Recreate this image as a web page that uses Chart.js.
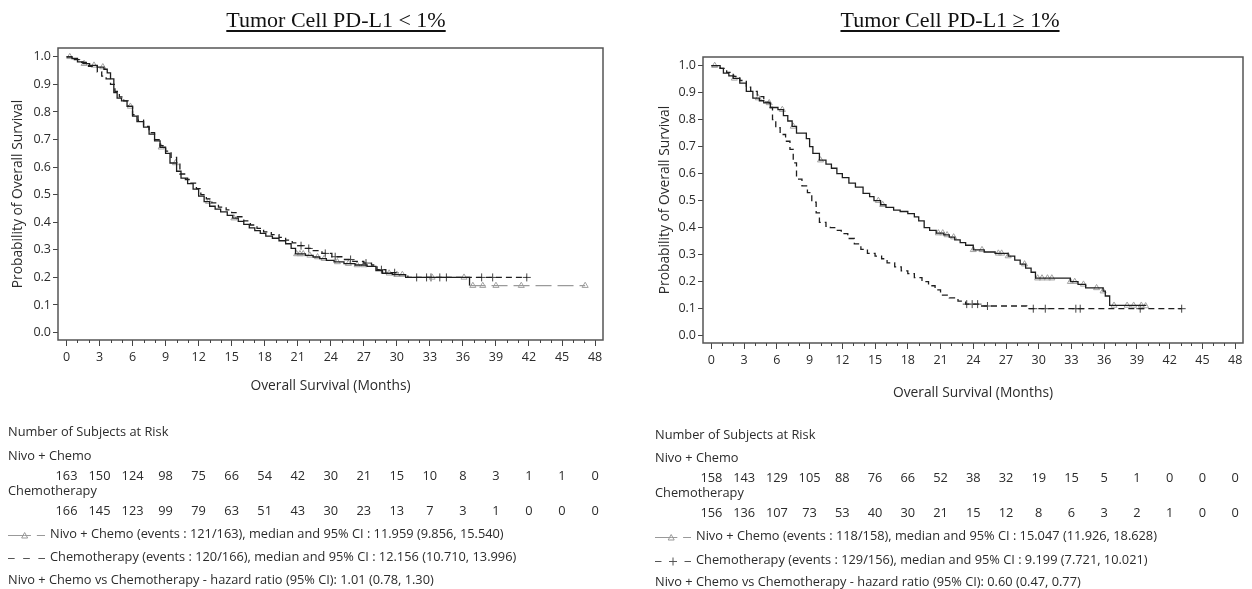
<!DOCTYPE html>
<html>
<head>
<meta charset="utf-8">
<script src="https://cdn.jsdelivr.net/npm/chart.js@4.4.1/dist/chart.umd.min.js"></script>
<style>
    body { margin: 0; background: #fff; }
    #page { position: relative; width: 1252px; height: 589px; overflow: hidden;
            font-family: "Open Sans", "Noto Sans", sans-serif; color: #2b2b2b; }
    .panel { position: absolute; top: 0; width: 626px; height: 589px; }
    .panel canvas { position: absolute; left: 0; top: 0; }
    .title { position: absolute; top: 9px; font-family: "Liberation Serif", "Times New Roman", serif;
             font-size: 22px; line-height: 22px; color: #111; text-decoration: underline;
             text-underline-offset: 3px; white-space: nowrap; transform: translateX(-50%); }
    .txt { position: absolute; font-size: 12.8px; line-height: 14px; white-space: nowrap; transform: translateY(-50%); }
    .num { position: absolute; font-size: 12.8px; line-height: 14px; white-space: nowrap; transform: translate(-50%, -50%); }
    .txt svg { vertical-align: middle; margin-right: 5px; }
</style>
</head>
<body>
<div id="page">
    <div class="panel" id="panelLow" style="left:0">
        <canvas id="chartLow" width="626" height="589"></canvas>
    </div>
    <div class="panel" id="panelHigh" style="left:626px">
        <canvas id="chartHigh" width="626" height="589"></canvas>
    </div>
    <div class="title" style="left:336px">Tumor Cell PD-L1 &lt; 1%</div>
    <div class="title" style="left:950px">Tumor Cell PD-L1 ≥ 1%</div>
</div>

<script>
// ---------- axis ticks ----------
const monthTicks = [0, 3, 6, 9, 12, 15, 18, 21, 24, 27, 30, 33, 36, 39, 42, 45, 48];
const survTicks = [0, 0.1, 0.2, 0.3, 0.4, 0.5, 0.6, 0.7, 0.8, 0.9, 1.0];

// ---------- PD-L1 < 1% ----------
const lowNivoTime = [0, 0.5, 1.0, 1.5, 2.1, 2.8, 3.4, 3.7, 4.0, 4.3, 4.6, 5.0, 5.5, 6.0, 6.4, 7.0, 7.5, 8.0, 8.5, 9.0,
    9.4, 10.0, 10.4, 11.0, 11.5, 12.0, 12.5, 13.0, 13.5, 14.0, 14.6, 15.1, 15.6, 16.1, 16.6, 17.1, 17.6, 18.1, 18.7, 19.3,
    19.9, 20.4, 20.8, 21.7, 22.4, 23.0, 23.6, 24.3, 25.2, 26.2, 27.3, 28.1, 28.7, 29.6, 30.8, 36.6, 47.1];
const lowNivoSurv = [1.0, 0.994, 0.982, 0.975, 0.969, 0.963, 0.955, 0.942, 0.92, 0.87, 0.85, 0.84, 0.82, 0.785, 0.765, 0.745, 0.72, 0.695, 0.672, 0.65,
    0.615, 0.585, 0.56, 0.54, 0.52, 0.495, 0.475, 0.458, 0.448, 0.438, 0.425, 0.415, 0.403, 0.392, 0.38, 0.37, 0.36, 0.35, 0.342, 0.333,
    0.322, 0.305, 0.285, 0.28, 0.274, 0.268, 0.262, 0.256, 0.25, 0.245, 0.24, 0.225, 0.215, 0.21, 0.20, 0.17, 0.17];
const lowChemoTime = [0, 0.6, 1.2, 2.0, 2.8, 3.2, 3.6, 4.0, 4.4, 4.8, 5.2, 5.6, 6.0, 6.5, 7.0, 7.5, 8.0, 8.5, 9.0, 9.5,
    10.0, 10.3, 10.8, 11.3, 11.8, 12.2, 12.7, 13.2, 13.8, 14.5, 15.0, 15.5, 16.1, 16.7, 17.3, 17.9, 18.6, 19.3, 19.9, 20.5,
    21.0, 21.6, 22.3, 23.2, 24.1, 25.0, 26.0, 27.0, 27.7, 28.2, 29.0, 30.2, 31.0, 41.8];
const lowChemoSurv = [1.0, 0.99, 0.98, 0.965, 0.945, 0.93, 0.92, 0.9, 0.875, 0.855, 0.84, 0.82, 0.79, 0.77, 0.748, 0.725, 0.70, 0.678, 0.658, 0.635,
    0.615, 0.575, 0.555, 0.542, 0.522, 0.50, 0.485, 0.47, 0.455, 0.445, 0.435, 0.42, 0.405, 0.39, 0.378, 0.365, 0.355, 0.345, 0.335, 0.325,
    0.315, 0.305, 0.297, 0.287, 0.275, 0.265, 0.258, 0.252, 0.245, 0.228, 0.217, 0.21, 0.20, 0.20];
const lowNivoCensor = [0.3, 1.6, 2.5, 3.3, 5.8, 8.6, 9.9, 12.9, 15.2, 20.9, 21.2, 21.5, 22.1, 22.8, 23.4, 24.6, 25.6, 26.4,
    27.0, 29.3, 30.0, 30.5, 33.2, 36.1, 36.9, 37.8, 39.0, 41.3, 47.1];
const lowChemoCensor = [21.3, 22.0, 23.5, 24.4, 25.8, 27.2, 28.6, 29.8, 31.8, 32.7, 33.1, 33.9, 34.5, 37.7, 38.7, 41.8];
const lowNivoAtRisk = [163, 150, 124, 98, 75, 66, 54, 42, 30, 21, 15, 10, 8, 3, 1, 1, 0];
const lowChemoAtRisk = [166, 145, 123, 99, 79, 63, 51, 43, 30, 23, 13, 7, 3, 1, 0, 0, 0];

// ---------- PD-L1 >= 1% ----------
const highNivoTime = [0, 0.8, 1.1, 1.6, 2.0, 2.6, 3.2, 3.8, 4.4, 4.8, 5.4, 6.1, 6.6, 7.0, 7.4, 7.8, 8.7, 9.0, 9.3, 9.9,
    10.5, 11.0, 11.5, 12.0, 12.6, 13.2, 13.9, 14.5, 14.9, 15.5, 16.0, 16.7, 17.3, 18.0, 18.6, 19.0, 19.5, 20.0, 20.6, 21.3,
    21.8, 22.3, 22.8, 23.3, 24.0, 25.0, 26.0, 27.2, 27.8, 28.3, 28.8, 29.3, 29.7, 32.9, 33.6, 34.3, 35.9, 36.1, 36.5, 39.8];
const highNivoSurv = [1.0, 0.99, 0.972, 0.962, 0.953, 0.935, 0.905, 0.88, 0.87, 0.862, 0.845, 0.837, 0.815, 0.795, 0.775, 0.75, 0.73, 0.70, 0.675, 0.65,
    0.635, 0.62, 0.60, 0.585, 0.565, 0.55, 0.527, 0.515, 0.50, 0.485, 0.475, 0.465, 0.46, 0.452, 0.44, 0.425, 0.40, 0.39, 0.38, 0.373,
    0.365, 0.355, 0.345, 0.335, 0.318, 0.31, 0.305, 0.295, 0.28, 0.265, 0.25, 0.235, 0.213, 0.20, 0.19, 0.177, 0.165, 0.147, 0.112, 0.11];
const highChemoTime = [0, 0.8, 1.4, 2.0, 2.6, 3.2, 3.6, 4.2, 4.8, 5.3, 5.6, 5.9, 6.3, 6.8, 7.2, 7.5, 7.8, 8.3, 8.8, 9.2,
    9.6, 9.9, 10.5, 10.9, 11.4, 11.9, 12.5, 13.1, 13.7, 14.3, 15.0, 15.6, 16.1, 16.8, 17.4, 18.0, 18.6, 19.3, 19.9, 20.5,
    21.0, 21.8, 22.6, 23.3, 24.7, 28.9, 43.1];
const highChemoSurv = [1.0, 0.99, 0.975, 0.96, 0.945, 0.92, 0.905, 0.885, 0.865, 0.845, 0.80, 0.77, 0.745, 0.72, 0.69, 0.64, 0.58, 0.555, 0.53, 0.495,
    0.455, 0.42, 0.405, 0.40, 0.39, 0.378, 0.36, 0.34, 0.32, 0.305, 0.295, 0.285, 0.27, 0.255, 0.24, 0.23, 0.215, 0.2, 0.185, 0.17,
    0.15, 0.14, 0.128, 0.117, 0.11, 0.10, 0.10];
const highNivoCensor = [0.3, 2.1, 4.3, 5.3, 6.5, 7.5, 10.0, 15.3, 15.7, 20.8, 21.2, 21.6, 22.2, 24.0, 24.8, 26.3, 26.6, 27.2,
    28.7, 29.9, 30.3, 30.8, 31.2, 32.9, 33.3, 34.1, 35.3, 35.9, 36.9, 38.1, 38.7, 39.4, 39.8];
const highChemoCensor = [23.4, 23.9, 24.4, 25.3, 29.5, 30.6, 33.4, 33.8, 39.3, 43.1];
const highNivoAtRisk = [158, 143, 129, 105, 88, 76, 66, 52, 38, 32, 19, 15, 5, 1, 0, 0, 0];
const highChemoAtRisk = [156, 136, 107, 73, 53, 40, 30, 21, 15, 12, 8, 6, 3, 2, 1, 0, 0];

const lowLegend = [
    "Nivo + Chemo (events : 121/163), median and 95% CI : 11.959 (9.856, 15.540)",
    "Chemotherapy (events : 120/166), median and 95% CI : 12.156 (10.710, 13.996)",
    "Nivo + Chemo vs Chemotherapy - hazard ratio (95% CI): 1.01 (0.78, 1.30)"
];
const highLegend = [
    "Nivo + Chemo (events : 118/158), median and 95% CI : 15.047 (11.926, 18.628)",
    "Chemotherapy (events : 129/156), median and 95% CI : 9.199 (7.721, 10.021)",
    "Nivo + Chemo vs Chemotherapy - hazard ratio (95% CI): 0.60 (0.47, 0.77)"
];

// ---------- Helpers ----------
function toPoints(times, surv) {
    return times.map((t, i) => ({ x: t, y: surv[i] }));
}

// survival value of the step curve at time t (used to put censor marks on the curve)
function survAt(times, surv, t) {
    let s = surv[0];
    for (let i = 0; i < times.length; i++) {
        if (times[i] <= t) s = surv[i];
    }
    return s;
}

function censorPoints(censor, times, surv) {
    return censor.map(t => ({ x: t, y: survAt(times, surv, t) }));
}

// Box around plot area + minor month ticks
const frameAndMinorTicks = {
    id: "frameAndMinorTicks",
    afterDraw(chart) {
        const { ctx, chartArea } = chart;
        const xs = chart.scales.x;
        ctx.save();
        ctx.strokeStyle = "#555";
        ctx.lineWidth = 1.5;
        ctx.strokeRect(chartArea.left, chartArea.top, chartArea.right - chartArea.left, chartArea.bottom - chartArea.top);
        ctx.lineWidth = 1;
        ctx.strokeStyle = "#444";
        for (let m = 0; m <= 48; m++) {
            if (m % 3 === 0) continue;
            const px = Math.round(xs.getPixelForValue(m)) + 0.5;
            ctx.beginPath();
            ctx.moveTo(px, chartArea.bottom);
            ctx.lineTo(px, chartArea.bottom + 3);
            ctx.stroke();
        }
        ctx.restore();
    }
};

function makeKmChart(canvasId, cfg) {
    const ctx = document.getElementById(canvasId).getContext("2d");

    return new Chart(ctx, {
        type: "line",
        data: {
            datasets: [
                {
                    label: "Nivo + Chemo",
                    data: toPoints(cfg.nivoTime, cfg.nivoSurv),
                    stepped: "before",
                    borderColor: "#1e1e1e",
                    borderWidth: 1.3,
                    pointRadius: 0,
                    segment: cfg.nivoTail ? {
                        borderColor: c => c.p0.parsed.x >= cfg.nivoTail ? "#9a9a9a" : undefined,
                        borderDash: c => c.p0.parsed.x >= cfg.nivoTail ? [16, 6] : undefined
                    } : undefined
                },
                {
                    label: "Chemotherapy",
                    data: toPoints(cfg.chemoTime, cfg.chemoSurv),
                    stepped: "before",
                    borderColor: "#1e1e1e",
                    borderWidth: 1.3,
                    borderDash: [6, 4],
                    pointRadius: 0
                },
                {
                    type: "scatter",
                    label: "Nivo censored",
                    data: censorPoints(cfg.nivoCensor, cfg.nivoTime, cfg.nivoSurv),
                    pointStyle: "triangle",
                    pointRadius: 3.5,
                    borderColor: "#a3a3a3",
                    backgroundColor: "rgba(0,0,0,0)",
                    borderWidth: 1
                },
                {
                    type: "scatter",
                    label: "Chemo censored",
                    data: censorPoints(cfg.chemoCensor, cfg.chemoTime, cfg.chemoSurv),
                    pointStyle: "cross",
                    pointRadius: 4,
                    borderColor: "#444",
                    borderWidth: 1
                }
            ]
        },
        options: {
            responsive: false,
            animation: false,
            layout: { padding: cfg.padding },
            plugins: {
                legend: { display: false },
                tooltip: { enabled: false }
            },
            scales: {
                x: {
                    type: "linear",
                    min: -0.77,
                    max: 48.72,
                    afterBuildTicks: axis => { axis.ticks = monthTicks.map(v => ({ value: v })); },
                    afterFit: scale => { scale.height = cfg.xAxisHeight; },
                    grid: { drawOnChartArea: false, drawTicks: true, tickLength: 6, color: "#444" },
                    border: { display: false },
                    ticks: {
                        autoSkip: false, maxRotation: 0, padding: 4,
                        color: "#2b2b2b", font: { family: "Open Sans", size: 12.5 },
                        callback: v => String(v)
                    },
                    title: {
                        display: true, text: "Overall Survival (Months)", color: "#2b2b2b",
                        font: { family: "Open Sans", size: 13.8 }, padding: { top: 0, bottom: 0 }
                    }
                },
                y: {
                    min: -0.027,
                    max: 1.032,
                    afterBuildTicks: axis => { axis.ticks = survTicks.map(v => ({ value: v })); },
                    afterFit: scale => { scale.width = cfg.yAxisWidth; },
                    grid: { drawOnChartArea: false, drawTicks: true, tickLength: 5, color: "#444" },
                    border: { display: false },
                    ticks: {
                        padding: 2, color: "#2b2b2b", font: { family: "Open Sans", size: 12.5 },
                        callback: v => Number(v).toFixed(1)
                    },
                    title: {
                        display: true, text: "Probability of Overall Survival", color: "#2b2b2b",
                        font: { family: "Open Sans", size: 13.8 }, padding: { top: cfg.yTitlePad, bottom: 0 }
                    }
                }
            }
        },
        plugins: [frameAndMinorTicks]
    });
}

// ---------- At-risk table and legend text ----------
function addText(html, left, top, cls) {
    const el = document.createElement("div");
    el.className = cls || "txt";
    el.style.left = left + "px";
    el.style.top = top + "px";
    el.innerHTML = html;
    document.getElementById("page").appendChild(el);
}

function buildTable(chart, offsetX, cfg) {
    const xs = chart.scales.x;
    addText("Number of Subjects at Risk", cfg.textLeft, cfg.rows[0]);
    addText("Nivo + Chemo", cfg.textLeft, cfg.rows[1]);
    cfg.nivoAtRisk.forEach((n, i) => addText(String(n), offsetX + xs.getPixelForValue(monthTicks[i]), cfg.rows[2], "num"));
    addText("Chemotherapy", cfg.textLeft, cfg.rows[3]);
    cfg.chemoAtRisk.forEach((n, i) => addText(String(n), offsetX + xs.getPixelForValue(monthTicks[i]), cfg.rows[4], "num"));
    addText(cfg.nivoSample + cfg.legend[0], cfg.textLeft, cfg.rows[5]);
    addText(cfg.chemoSample + cfg.legend[1], cfg.textLeft, cfg.rows[6]);
    addText(cfg.legend[2], cfg.textLeft, cfg.rows[7]);
}

// small legend samples: solid + triangle + dash, dashes, dash + cross + dash
const nivoSampleSvg = w => `<svg width="${w}" height="10">` +
    `<line x1="0" y1="5.5" x2="${w * 0.45}" y2="5.5" stroke="#999" stroke-width="1"/>` +
    `<path d="M${w * 0.45 - 3},8 L${w * 0.45},2.5 L${w * 0.45 + 3},8 Z" fill="none" stroke="#999" stroke-width="1"/>` +
    `<line x1="${w * 0.45}" y1="5.5" x2="${w * 0.62}" y2="5.5" stroke="#999" stroke-width="1"/>` +
    `<line x1="${w * 0.78}" y1="5.5" x2="${w}" y2="5.5" stroke="#999" stroke-width="1"/></svg>`;
const chemoSampleDash = w => `<svg width="${w}" height="10">` +
    `<line x1="0" y1="5.5" x2="${w}" y2="5.5" stroke="#555" stroke-width="1" stroke-dasharray="${w * 0.18},${w * 0.23}"/></svg>`;
const chemoSampleCross = w => `<svg width="${w}" height="10">` +
    `<line x1="0" y1="5.5" x2="${w * 0.18}" y2="5.5" stroke="#555" stroke-width="1"/>` +
    `<path d="M${w / 2 - 4},5.5 H${w / 2 + 4} M${w / 2},1.5 V9.5" stroke="#555" stroke-width="1"/>` +
    `<line x1="${w * 0.82}" y1="5.5" x2="${w}" y2="5.5" stroke="#555" stroke-width="1"/></svg>`;

const lowChart = makeKmChart("chartLow", {
    nivoTime: lowNivoTime, nivoSurv: lowNivoSurv, chemoTime: lowChemoTime, chemoSurv: lowChemoSurv,
    nivoCensor: lowNivoCensor, chemoCensor: lowChemoCensor, nivoTail: 36.6,
    padding: { left: 0, top: 48, right: 23, bottom: 195 },
    xAxisHeight: 54, yAxisWidth: 58, yTitlePad: 10
});

const highChart = makeKmChart("chartHigh", {
    nivoTime: highNivoTime, nivoSurv: highNivoSurv, chemoTime: highChemoTime, chemoSurv: highChemoSurv,
    nivoCensor: highNivoCensor, chemoCensor: highChemoCensor,
    padding: { left: 0, top: 57, right: 9, bottom: 188 },
    xAxisHeight: 58, yAxisWidth: 77, yTitlePad: 31
});

buildTable(lowChart, 0, {
    textLeft: 8, rows: [431, 455, 475, 490, 510, 533, 556, 579],
    nivoAtRisk: lowNivoAtRisk, chemoAtRisk: lowChemoAtRisk, legend: lowLegend,
    nivoSample: nivoSampleSvg(37), chemoSample: chemoSampleDash(37)
});

buildTable(highChart, 626, {
    textLeft: 655, rows: [434, 457, 477, 492, 512, 535, 559, 581],
    nivoAtRisk: highNivoAtRisk, chemoAtRisk: highChemoAtRisk, legend: highLegend,
    nivoSample: nivoSampleSvg(36), chemoSample: chemoSampleCross(36)
});
</script>
</body>
</html>
